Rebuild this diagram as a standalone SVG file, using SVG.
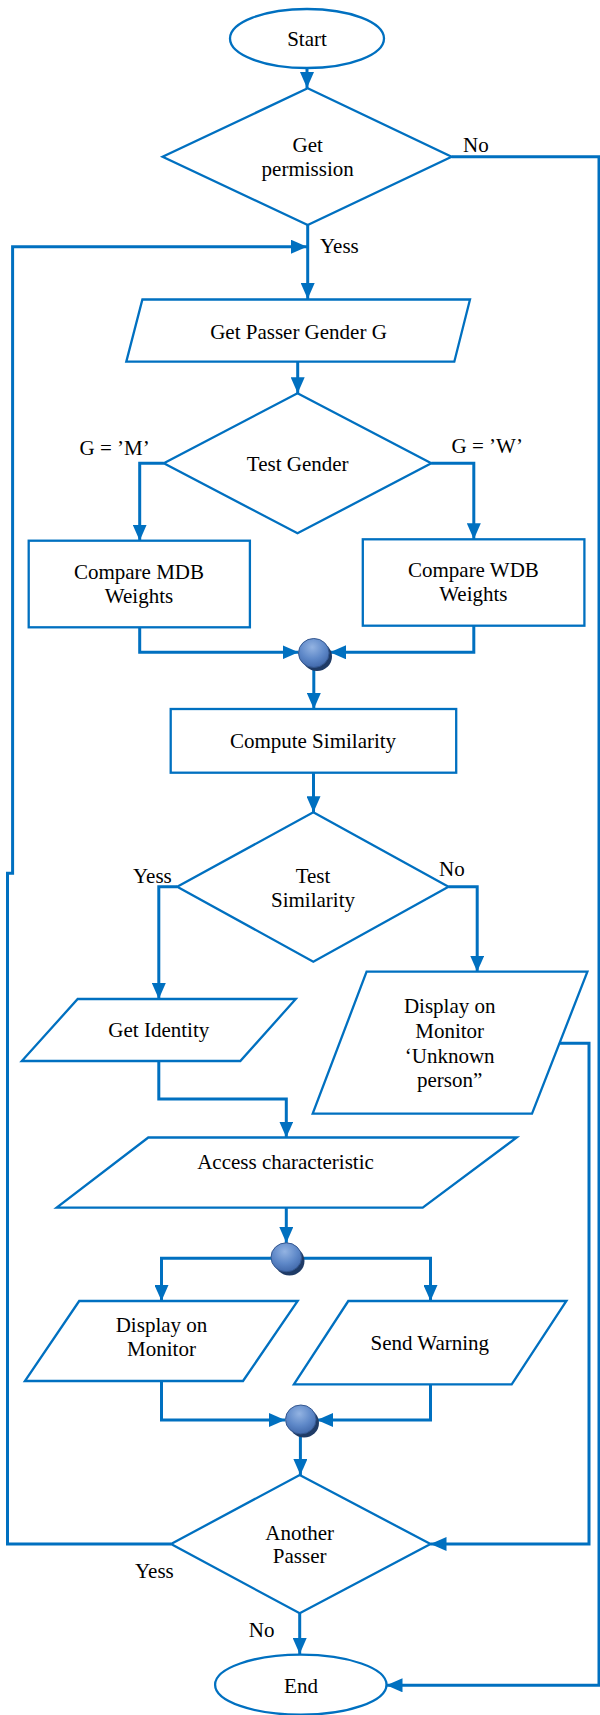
<svg xmlns="http://www.w3.org/2000/svg" width="600" height="1715" viewBox="0 0 600 1715">
<style>
.s{fill:#fff;stroke:#0070C0;stroke-width:2.3}
.c{fill:none;stroke:#0070C0;stroke-width:3}
text{font-family:"Liberation Serif","Times New Roman",serif;font-size:21px;fill:#000}
.m{text-anchor:middle}
</style>
<defs>
<marker id="ah" markerUnits="userSpaceOnUse" markerWidth="16" markerHeight="14" refX="16" refY="7" orient="auto">
<path d="M0,0 L16,7 L0,14 z" fill="#0070C0"/>
</marker>
<radialGradient id="bg" cx="0.45" cy="0.3" r="0.75">
<stop offset="0" stop-color="#93B3E2"/>
<stop offset="0.55" stop-color="#5E88C8"/>
<stop offset="1" stop-color="#3D64A6"/>
</radialGradient>
</defs>
<g id="connectors">
<path class="c" d="M307,68 V88" marker-end="url(#ah)"/>
<path class="c" d="M451.6,156.7 H599 V1685.3 H386.5" marker-end="url(#ah)"/>
<path class="c" d="M307.7,225 V299" marker-end="url(#ah)"/>
<path class="c" d="M171,1544 H7.5 V873.3 H12.6 V246.7 H307" marker-end="url(#ah)"/>
<path class="c" d="M297.7,361.7 V393.3" marker-end="url(#ah)"/>
<path class="c" d="M163.8,463.3 H139.7 V540.7" marker-end="url(#ah)"/>
<path class="c" d="M431.3,463.3 H473.8 V539.3" marker-end="url(#ah)"/>
<path class="c" d="M139.7,627.3 V652.3 H298.5" marker-end="url(#ah)"/>
<path class="c" d="M473.8,625.7 V652.3 H330" marker-end="url(#ah)"/>
<path class="c" d="M313.8,668 V709" marker-end="url(#ah)"/>
<path class="c" d="M313.5,772.7 V812.3" marker-end="url(#ah)"/>
<path class="c" d="M177.2,886.7 H158.8 V999" marker-end="url(#ah)"/>
<path class="c" d="M448.5,886.7 H477.2 V971.7" marker-end="url(#ah)"/>
<path class="c" d="M158.8,1061 V1099 H286.3 V1137.5" marker-end="url(#ah)"/>
<path class="c" d="M559.5,1043.3 H589 V1544 H430.5" marker-end="url(#ah)"/>
<path class="c" d="M286.3,1207.7 V1243" marker-end="url(#ah)"/>
<path class="c" d="M271,1258.3 H161.5 V1301" marker-end="url(#ah)"/>
<path class="c" d="M302,1258.3 H430.5 V1301" marker-end="url(#ah)"/>
<path class="c" d="M161.5,1381 V1420 H285" marker-end="url(#ah)"/>
<path class="c" d="M430.5,1384.3 V1420 H317" marker-end="url(#ah)"/>
<path class="c" d="M300.4,1435 V1475" marker-end="url(#ah)"/>
<path class="c" d="M299.7,1613.3 V1654" marker-end="url(#ah)"/>
</g>
<g id="start"><ellipse class="s" cx="307" cy="38.5" rx="77" ry="29.5"/><text class="m" x="307" y="45.7">Start</text></g>
<g id="permission"><polygon class="s" points="307.7,88.3 451.6,156.7 307.7,225 162.6,156.7"/><text class="m" x="307.7" y="151.7">Get</text><text class="m" x="307.7" y="176">permission</text></g>
<g id="label-no1"><text x="463" y="151.7">No</text></g>
<g id="label-yess1"><text x="320" y="253">Yess</text></g>
<g id="getgender"><polygon class="s" points="142.4,299.5 470,299.5 454.3,361.7 126.3,361.7"/><text class="m" x="298.5" y="339">Get Passer Gender G</text></g>
<g id="testgender"><polygon class="s" points="297.5,393.3 431.3,463.3 297.5,533.3 163.8,463.3"/><text class="m" x="297.7" y="470.7">Test Gender</text></g>
<g id="label-m"><text x="79.6" y="455.3">G = ’M’</text></g>
<g id="label-w"><text x="451.6" y="453.3">G = ’W’</text></g>
<g id="mdb"><rect class="s" x="28.7" y="540.7" width="221.2" height="86.6"/><text class="m" x="139" y="579.3">Compare MDB</text><text class="m" x="139" y="603">Weights</text></g>
<g id="wdb"><rect class="s" x="362.8" y="539.3" width="221.6" height="86.4"/><text class="m" x="473.4" y="577.3">Compare WDB</text><text class="m" x="473.4" y="601">Weights</text></g>
<g id="join1"><ellipse cx="317" cy="656.5" rx="15" ry="14.5" fill="#1F3B66"/><ellipse cx="313.8" cy="653" rx="15.3" ry="14.5" fill="url(#bg)" stroke="#34578F" stroke-width="1"/></g>
<g id="compute"><rect class="s" x="170.7" y="709" width="285.5" height="63.7"/><text class="m" x="313" y="748.3">Compute Similarity</text></g>
<g id="testsim"><polygon class="s" points="313.3,812.3 448.5,886.7 313.3,961.7 177.2,886.7"/><text class="m" x="313" y="882.7">Test</text><text class="m" x="313" y="906.7">Similarity</text></g>
<g id="label-yess2"><text x="133" y="882.7">Yess</text></g>
<g id="label-no2"><text x="439" y="875.7">No</text></g>
<g id="identity"><polygon class="s" points="77.7,999 295.8,999 240.3,1061 21.8,1061"/><text class="m" x="158.8" y="1036.7">Get Identity</text></g>
<g id="unknown"><polygon class="s" points="366.6,971.7 587.4,971.7 532,1113.7 312.7,1113.7"/><text class="m" x="449.7" y="1013.3">Display on</text><text class="m" x="449.7" y="1038.3">Monitor</text><text class="m" x="449.7" y="1062.7">‘Unknown</text><text class="m" x="449.7" y="1086.7">person”</text></g>
<g id="access"><polygon class="s" points="148.3,1137.5 516.7,1137.5 422.7,1207.7 56.7,1207.7"/><text class="m" x="285.5" y="1169">Access characteristic</text></g>
<g id="join2"><ellipse cx="289.5" cy="1261" rx="15" ry="14.5" fill="#1F3B66"/><ellipse cx="286.3" cy="1257.3" rx="15.3" ry="14.5" fill="url(#bg)" stroke="#34578F" stroke-width="1"/></g>
<g id="display"><polygon class="s" points="79.2,1301 297.7,1301 243,1381 24.9,1381"/><text class="m" x="161.5" y="1331.7">Display on</text><text class="m" x="161.5" y="1356">Monitor</text></g>
<g id="warning"><polygon class="s" points="348.3,1301 566.4,1301 511.7,1384.3 293.9,1384.3"/><text class="m" x="429.8" y="1350">Send Warning</text></g>
<g id="join3"><ellipse cx="304" cy="1423" rx="15" ry="14.5" fill="#1F3B66"/><ellipse cx="300.8" cy="1419.5" rx="15.3" ry="14.5" fill="url(#bg)" stroke="#34578F" stroke-width="1"/></g>
<g id="another"><polygon class="s" points="299.7,1475 430.5,1544 299.7,1613.3 171,1544"/><text class="m" x="299.7" y="1540">Another</text><text class="m" x="299.7" y="1563.3">Passer</text></g>
<g id="label-yess3"><text x="135" y="1577.7">Yess</text></g>
<g id="label-no3"><text x="248.8" y="1637.3">No</text></g>
<g id="end"><ellipse class="s" cx="300.8" cy="1684.7" rx="85.7" ry="30"/><text class="m" x="301" y="1692.7">End</text></g>
</svg>
